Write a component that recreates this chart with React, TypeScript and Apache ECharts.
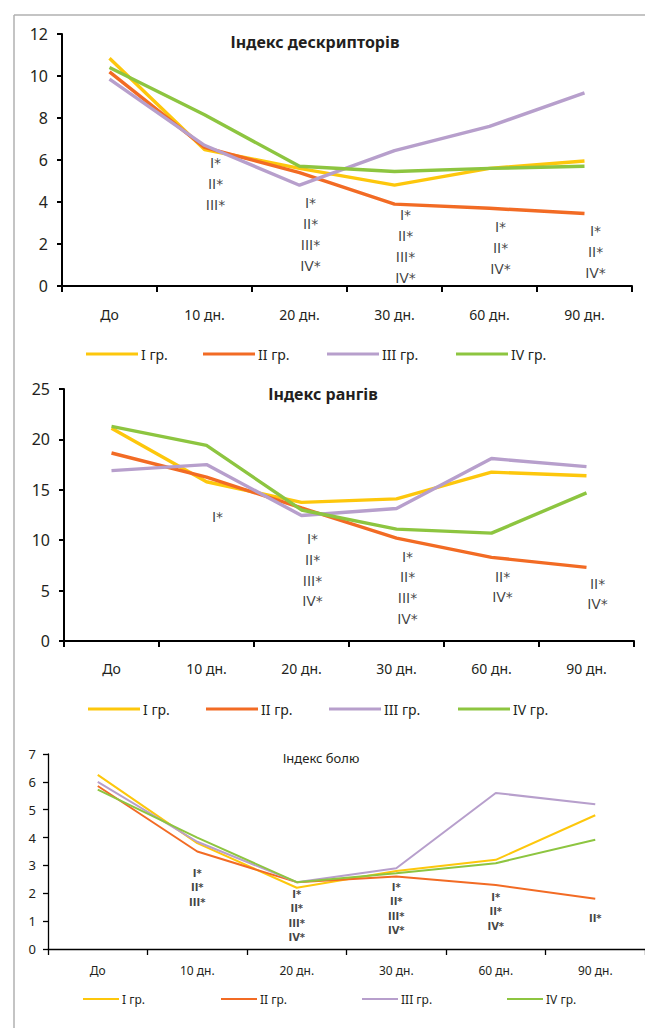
import React, { useEffect, useRef } from "react";
import * as echarts from "echarts";

const categories = ["До", "10 дн.", "20 дн.", "30 дн.", "60 дн.", "90 дн."];
const groups = ["I гр.", "II гр.", "III гр.", "IV гр."];
const colors = ["#FDC70C", "#F26B24", "#B79FCC", "#8DC540"];

// Індекс дескрипторів
const descI = [10.85, 6.5, 5.6, 4.8, 5.6, 5.95];
const descII = [10.2, 6.6, 5.4, 3.9, 3.7, 3.45];
const descIII = [9.85, 6.7, 4.8, 6.45, 7.6, 9.2];
const descIV = [10.4, 8.15, 5.7, 5.45, 5.6, 5.7];

// Індекс рангів
const rankI = [21.1, 15.8, 13.75, 14.1, 16.75, 16.4];
const rankII = [18.65, 16.25, 13.2, 10.2, 8.3, 7.3];
const rankIII = [16.9, 17.5, 12.45, 13.15, 18.1, 17.3];
const rankIV = [21.3, 19.4, 13.0, 11.1, 10.7, 14.7];

// Індекс болю
const painI = [6.25, 3.8, 2.2, 2.8, 3.2, 4.8];
const painII = [5.85, 3.5, 2.4, 2.6, 2.3, 1.8];
const painIII = [6.0, 3.85, 2.4, 2.9, 5.6, 5.2];
const painIV = [5.72, 4.0, 2.4, 2.72, 3.08, 3.92];

// significance marks
const markCats = ["10 дн.", "20 дн.", "30 дн.", "60 дн.", "90 дн."];
const descMarks = ["I*\nII*\nIII*", "I*\nII*\nIII*\nIV*", "I*\nII*\nIII*\nIV*", "I*\nII*\nIV*", "I*\nII*\nIV*"];
const descMarkY = [4.86, 2.43, 1.9, 1.81, 1.64];
const rankMarks = ["I*", "I*\nII*\nIII*\nIV*", "I*\nII*\nIII*\nIV*", "II*\nIV*", "II*\nIV*"];
const rankMarkY = [12.3, 7.0, 5.3, 5.36, 4.66];
const painMarks = ["I*\nII*\nIII*", "I*\nII*\nIII*\nIV*", "I*\nII*\nIII*\nIV*", "I*\nII*\nIV*", "II*"];
const painMarkY = [2.19, 1.19, 1.44, 1.33, 1.08];

const titles = ["Індекс дескрипторів", "Індекс рангів", "Індекс болю"];

const FONT = "Noto Sans";
const MARK_FONT = "DejaVu Sans";
const TXT = "#231f20";

export default function App() {
  const ref = useRef<HTMLDivElement>(null);
  useEffect(() => {
    document.body.style.margin = "0";
    const chart = echarts.init(ref.current!, null, { renderer: "svg" });

    const sets = [
      [descI, descII, descIII, descIV],
      [rankI, rankII, rankIII, rankIV],
      [painI, painII, painIII, painIV],
    ];
    const lineW = [3.4, 3.4, 2];
    const grids = [
      { left: 62, top: 34, width: 570, height: 252 },
      { left: 64, top: 389, width: 570, height: 252 },
      { left: 48, top: 754, width: 597, height: 195 },
    ];
    const yCfg = [
      { max: 12, interval: 2, font: 16, margin: 14, axisW: 2 },
      { max: 25, interval: 5, font: 16, margin: 14, axisW: 2 },
      { max: 7, interval: 1, font: 13, margin: 12, axisW: 1.3 },
    ];
    const xCfg = [
      { font: 14, margin: 21 },
      { font: 14, margin: 20 },
      { font: 12, margin: 15 },
    ];

    const series: any[] = [];
    sets.forEach((set, gi) => {
      set.forEach((data, si) => {
        series.push({
          type: "line",
          name: groups[si],
          xAxisIndex: gi,
          yAxisIndex: gi,
          data,
          symbol: "none",
          showSymbol: false,
          lineStyle: { width: lineW[gi], color: colors[si] },
          itemStyle: { color: colors[si] },
          silent: true,
        });
      });
    });
    const marks = [
      { texts: descMarks, ys: descMarkY, font: 14, lh: 21, dx: 11, weight: "normal" },
      { texts: rankMarks, ys: rankMarkY, font: 14, lh: 20.7, dx: 11, weight: "normal" },
      { texts: painMarks, ys: painMarkY, font: 10, lh: 14.5, dx: 0, weight: "bold" },
    ];
    marks.forEach((m, gi) => {
      series.push({
        type: "scatter",
        xAxisIndex: gi,
        yAxisIndex: gi,
        symbolSize: 1,
        itemStyle: { color: "rgba(0,0,0,0)" },
        silent: true,
        z: 5,
        data: markCats.map((c, i) => ({ value: [c, m.ys[i]], name: m.texts[i] })),
        label: {
          show: true,
          position: "inside",
          offset: [m.dx, 0],
          formatter: (p: any) => "{m|" + p.name.split("\n").join("}\n{m|") + "}",
          rich: {
            m: {
              color: "#111",
              fontFamily: MARK_FONT,
              fontSize: m.font,
              fontWeight: m.weight,
              lineHeight: m.lh,
              align: "center",
            },
          },
          align: "center",
          verticalAlign: "middle",
        },
      });
    });

    const legendPos = [
      { top: 347, lefts: [86, 203, 327, 456], w: 52, h: 3, font: 14 },
      { top: 702, lefts: [88, 206, 329, 458], w: 52, h: 3, font: 14 },
      { top: 993, lefts: [83, 221, 362, 507], w: 36, h: 2, font: 12 },
    ];
    const legends: any[] = [];
    legendPos.forEach((lp) => {
      groups.forEach((g, i) => {
        legends.push({
          data: [g],
          left: lp.lefts[i],
          top: lp.top,
          icon: "rect",
          itemWidth: lp.w,
          itemHeight: lp.h,
          selectedMode: false,
          padding: 0,
          textStyle: { fontFamily: FONT, fontSize: lp.font, color: TXT, padding: [0, 0, 0, -2] },
        });
      });
    });

    const titlePos = [
      { x: 315, y: 42, size: 16, weight: "bold" },
      { x: 323, y: 394, size: 16, weight: "bold" },
      { x: 321, y: 758, size: 13, weight: "normal" },
    ];

    chart.setOption({
      animation: false,
      textStyle: { fontFamily: FONT },
      grid: grids,
      xAxis: grids.map((_, gi) => ({
        type: "category",
        gridIndex: gi,
        data: categories,
        boundaryGap: true,
        axisLine: { show: true, lineStyle: { color: "#000", width: yCfg[gi].axisW } },
        axisTick: { show: true, length: 6, lineStyle: { color: "#000", width: yCfg[gi].axisW } },
        axisLabel: { color: TXT, fontFamily: FONT, fontSize: xCfg[gi].font, margin: xCfg[gi].margin },
        splitLine: { show: false },
      })),
      yAxis: grids.map((_, gi) => ({
        type: "value",
        gridIndex: gi,
        min: 0,
        max: yCfg[gi].max,
        interval: yCfg[gi].interval,
        axisLine: { show: true, lineStyle: { color: "#000", width: yCfg[gi].axisW } },
        axisTick: { show: true, length: 5, lineStyle: { color: "#000", width: yCfg[gi].axisW } },
        axisLabel: { color: TXT, fontFamily: FONT, fontSize: yCfg[gi].font, margin: yCfg[gi].margin },
        splitLine: { show: false },
      })),
      legend: legends,
      series,
      graphic: [
        { type: "line", shape: { x1: 14, y1: 15, x2: 645, y2: 15 }, style: { stroke: "#b0b0b0", lineWidth: 1.5 } },
        { type: "line", shape: { x1: 14, y1: 15, x2: 14, y2: 1028 }, style: { stroke: "#b0b0b0", lineWidth: 1.5 } },
        ...titlePos.map((t, i) => ({
          type: "text",
          x: t.x,
          y: t.y,
          style: {
            text: titles[i],
            fill: TXT,
            fontFamily: FONT,
            fontSize: t.size,
            fontWeight: t.weight,
            align: "center",
            verticalAlign: "middle",
          },
        })),
      ],
    });
    return () => chart.dispose();
  }, []);
  return <div ref={ref} style={{ width: 645, height: 1028 }} />;
}
